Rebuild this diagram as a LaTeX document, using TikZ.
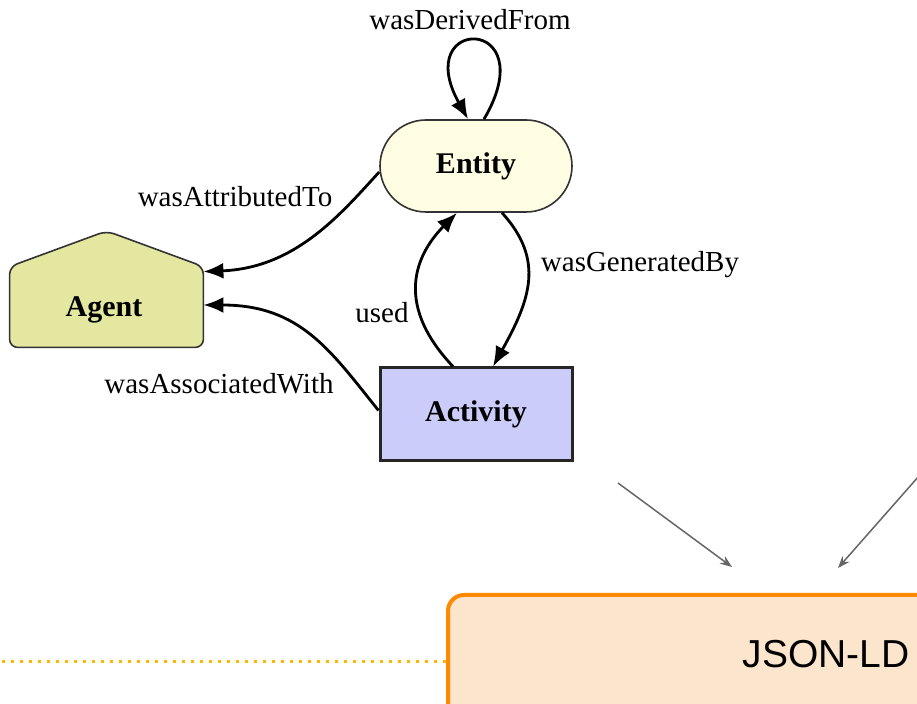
\documentclass[tikz,border=0pt]{standalone}
\usepackage{fontspec}
\setmainfont{Liberation Serif}
\newfontfamily\arialfont{Liberation Sans}
\usetikzlibrary{arrows.meta,calc}
\definecolor{entfill}{HTML}{FFFDE2}
\definecolor{agfill}{HTML}{E4E7A0}
\definecolor{actfill}{HTML}{CCCCFB}
\definecolor{jsonfill}{HTML}{FCE5CD}
\definecolor{jsonedge}{HTML}{FF8A00}
\definecolor{dotcol}{HTML}{FFB800}
\definecolor{grayarrow}{HTML}{666666}
\tikzset{
  lbl/.style={font=\fontsize{14.5}{17}\selectfont, inner sep=0pt},
  nodetext/.style={font=\fontsize{15}{18}\selectfont\bfseries},
  provedge/.style={line width=1.4pt, black, -{Latex[length=10pt,width=8pt]}},
  entitybox/.style={nodetext, draw=black!80, line width=0.8pt, fill=entfill, rounded corners=23pt, minimum width=96pt, minimum height=46pt},
  activitybox/.style={nodetext, draw=black!85, line width=1.5pt, fill=actfill, minimum width=96pt, minimum height=46.5pt},
  agentbox/.style={nodetext, minimum width=96.5pt, minimum height=40pt, inner sep=0pt},
  grayarr/.style={line width=0.75pt, grayarrow, -{Stealth[length=6pt,width=4.5pt]}},
  jsonbox/.style={draw=jsonedge, line width=2pt, fill=jsonfill, rounded corners=8pt, minimum width=276pt, minimum height=82pt},
  dotline/.style={dotcol, line width=1.5pt, dash pattern=on 1.5pt off 3pt}
}
\begin{document}
\begin{tikzpicture}[x=0.5pt,y=-0.5pt]
\useasboundingbox (0,0) rectangle (917,704);
\clip (0,0) rectangle (917,704);
\fill[white] (0,0) rectangle (917,704);

% nodes
\node[entitybox] (entity) at (476,166) {Entity};
\node[activitybox] (activity) at (476,414.5) {Activity};
\node[agentbox] (agent) at (106.5,307) {};
\coordinate (peak) at (106.5,231);
\draw[fill=agfill, draw=black!80, line width=0.8pt, rounded corners=4pt]
  (agent.south west) -- (agent.north west) -- (peak) -- (agent.north east) -- (agent.south east) -- cycle;
\node[nodetext] (agenttext) at (104,310) {Agent};

% labels
\node[lbl] (lDer) at (470,20) {wasDerivedFrom};
\node[lbl] (lAtt) at (235,197) {wasAttributedTo};
\node[lbl] (lGen) at (640,265) {wasGeneratedBy};
\node[lbl] (lUsed) at (382,313) {used};
\node[lbl] (lAss) at (219,384) {wasAssociatedWith};

% edges
\draw[provedge] ($(entity.north)+(8,0)$) .. controls (545,15) and (410,15) .. ($(entity.north)+(-8,0)$);
\draw[provedge] ($(entity.west)+(0,6)$) .. controls (340,215) and (295,268) .. ($(agent.north east)+(0,5)$);
\draw[provedge] ($(activity.west)+(0,-4)$) .. controls (330,350) and (300,305) .. ($(agent.east)+(0,-2)$);
\draw[provedge] ($(activity.north)+(-23,0)$) .. controls (390,300) and (420,250) .. ($(entity.south)+(-19,0)$);
\draw[provedge] ($(entity.south)+(26,0)$) .. controls (545,260) and (530,300) .. ($(activity.north)+(17,0)$);

% lower part
\node[jsonbox] (json) at (724,677) {};
\node[font=\arialfont\fontsize{19.5}{22}\selectfont, inner sep=0pt] (jsontext) at (826,654) {JSON-LD};

\coordinate (g1s) at (618,483);
\coordinate (g1e) at (732,567);
\coordinate (g2s) at (919,476);
\coordinate (g2e) at (838,568);
\draw[grayarr] (g1s) -- (g1e);
\draw[grayarr] (g2s) -- (g2e);

\coordinate (dotstart) at (2,662);
\coordinate (dotend) at (446,662);
\draw[dotline] (dotstart) -- (dotend);
\end{tikzpicture}
\end{document}
